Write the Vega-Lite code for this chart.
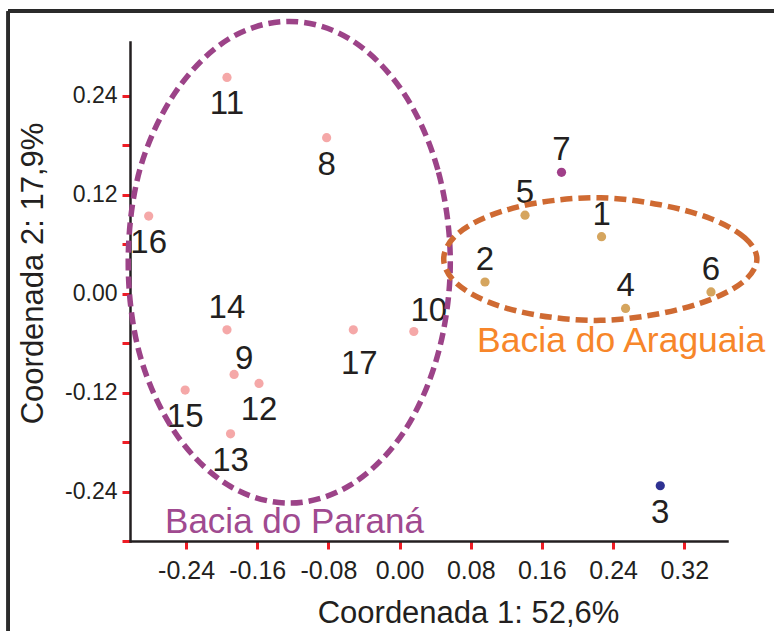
{
  "$schema": "https://vega.github.io/schema/vega-lite/v6.json",
  "width": 597,
  "height": 499,
  "autosize": {"type": "none"},
  "padding": {"left": 130, "top": 42, "right": 47, "bottom": 90},
  "background": "white",
  "config": {
    "view": {"stroke": null},
    "font": "Liberation Sans",
    "axis": {
      "grid": false,
      "domainColor": "#231F20",
      "domainWidth": 2.5,
      "domainCap": "square",
      "tickColor": "#EE1C25",
      "tickWidth": 3,
      "tickSize": 8,
      "labelFont": "Liberation Sans",
      "labelColor": "#231F20",
      "titleFont": "Liberation Sans",
      "titleColor": "#231F20",
      "titleFontWeight": "normal"
    }
  },
  "datasets": {
    "pts": [
      {"id": 1, "x": 0.227, "y": 0.069, "grupo": "Araguaia"},
      {"id": 2, "x": 0.096, "y": 0.014, "grupo": "Araguaia"},
      {"id": 3, "x": 0.293, "y": -0.233, "grupo": "isolado 3"},
      {"id": 4, "x": 0.254, "y": -0.018, "grupo": "Araguaia"},
      {"id": 5, "x": 0.141, "y": 0.095, "grupo": "Araguaia"},
      {"id": 6, "x": 0.350, "y": 0.002, "grupo": "Araguaia"},
      {"id": 7, "x": 0.182, "y": 0.147, "grupo": "isolado 7"},
      {"id": 8, "x": -0.082, "y": 0.189, "grupo": "Paraná"},
      {"id": 9, "x": -0.186, "y": -0.098, "grupo": "Paraná"},
      {"id": 10, "x": 0.016, "y": -0.046, "grupo": "Paraná"},
      {"id": 11, "x": -0.194, "y": 0.262, "grupo": "Paraná"},
      {"id": 12, "x": -0.158, "y": -0.109, "grupo": "Paraná"},
      {"id": 13, "x": -0.190, "y": -0.170, "grupo": "Paraná"},
      {"id": 14, "x": -0.194, "y": -0.044, "grupo": "Paraná"},
      {"id": 15, "x": -0.241, "y": -0.117, "grupo": "Paraná"},
      {"id": 16, "x": -0.282, "y": 0.094, "grupo": "Paraná"},
      {"id": 17, "x": -0.052, "y": -0.044, "grupo": "Paraná"}
    ],
    "elipses": [
      {"grupo": "Paraná", "ordem": 0, "x": 0.057, "y": 0.038},
      {"grupo": "Paraná", "ordem": 1, "x": 0.043, "y": 0.150},
      {"grupo": "Paraná", "ordem": 2, "x": 0.004, "y": 0.244},
      {"grupo": "Paraná", "ordem": 3, "x": -0.055, "y": 0.308},
      {"grupo": "Paraná", "ordem": 4, "x": -0.124, "y": 0.330},
      {"grupo": "Paraná", "ordem": 5, "x": -0.193, "y": 0.308},
      {"grupo": "Paraná", "ordem": 6, "x": -0.252, "y": 0.244},
      {"grupo": "Paraná", "ordem": 7, "x": -0.292, "y": 0.150},
      {"grupo": "Paraná", "ordem": 8, "x": -0.305, "y": 0.038},
      {"grupo": "Paraná", "ordem": 9, "x": -0.292, "y": -0.074},
      {"grupo": "Paraná", "ordem": 10, "x": -0.252, "y": -0.169},
      {"grupo": "Paraná", "ordem": 11, "x": -0.193, "y": -0.232},
      {"grupo": "Paraná", "ordem": 12, "x": -0.124, "y": -0.254},
      {"grupo": "Paraná", "ordem": 13, "x": -0.055, "y": -0.232},
      {"grupo": "Paraná", "ordem": 14, "x": 0.004, "y": -0.169},
      {"grupo": "Paraná", "ordem": 15, "x": 0.043, "y": -0.074},
      {"grupo": "Araguaia", "ordem": 0, "x": 0.4016, "y": 0.0418},
      {"grupo": "Araguaia", "ordem": 1, "x": 0.388, "y": 0.0676},
      {"grupo": "Araguaia", "ordem": 2, "x": 0.350, "y": 0.0907},
      {"grupo": "Araguaia", "ordem": 3, "x": 0.293, "y": 0.1076},
      {"grupo": "Araguaia", "ordem": 4, "x": 0.226, "y": 0.1162},
      {"grupo": "Araguaia", "ordem": 5, "x": 0.158, "y": 0.1105},
      {"grupo": "Araguaia", "ordem": 6, "x": 0.101, "y": 0.0943},
      {"grupo": "Araguaia", "ordem": 7, "x": 0.063, "y": 0.0703},
      {"grupo": "Araguaia", "ordem": 8, "x": 0.0496, "y": 0.0418},
      {"grupo": "Araguaia", "ordem": 9, "x": 0.063, "y": 0.0134},
      {"grupo": "Araguaia", "ordem": 10, "x": 0.101, "y": -0.0107},
      {"grupo": "Araguaia", "ordem": 11, "x": 0.158, "y": -0.0268},
      {"grupo": "Araguaia", "ordem": 12, "x": 0.226, "y": -0.0325},
      {"grupo": "Araguaia", "ordem": 13, "x": 0.293, "y": -0.0242},
      {"grupo": "Araguaia", "ordem": 14, "x": 0.350, "y": -0.0070},
      {"grupo": "Araguaia", "ordem": 15, "x": 0.388, "y": 0.0160}
    ],
    "rotulos": [
      {"texto": "Bacia do Paraná", "x": -0.2636, "y": -0.2903, "grupo": "Paraná"},
      {"texto": "Bacia do Araguaia", "x": 0.0871, "y": -0.0713, "grupo": "Araguaia"}
    ]
  },
  "encoding": {
    "x": {
      "field": "x",
      "type": "quantitative",
      "scale": {"domain": [-0.303, 0.368], "nice": false, "zero": false},
      "axis": {
        "values": [-0.24, -0.16, -0.08, 0, 0.08, 0.16, 0.24, 0.32],
        "labelExpr": "replace(format(datum.value, '.2f'), '−', '-')",
        "labelFontSize": 25,
        "labelPadding": 9,
        "title": "Coordenada 1: 52,6%",
        "titleFontSize": 31,
        "titleX": 338,
        "titleY": 81,
        "titleAlign": "center",
        "titleBaseline": "alphabetic"
      }
    },
    "y": {
      "field": "y",
      "type": "quantitative",
      "scale": {"domain": [-0.3, 0.305], "nice": false, "zero": false},
      "axis": {
        "values": [-0.3, -0.24, -0.18, -0.12, -0.06, 0, 0.06, 0.12, 0.18, 0.24],
        "labelExpr": "abs(round(datum.value * 100)) % 12 == 0 ? replace(format(datum.value, '.2f'), '−', '-') : ''",
        "labelFontSize": 23,
        "labelPadding": 5,
        "title": "Coordenada 2: 17,9%",
        "titleFontSize": 31,
        "titleAngle": 270,
        "titleX": -88,
        "titleY": 231,
        "titleAlign": "center",
        "titleBaseline": "alphabetic"
      }
    }
  },
  "layer": [
    {
      "data": {"name": "pts"},
      "mark": {"type": "rule", "color": "#2B2B2B", "strokeWidth": 3},
      "encoding": {"x": {"datum": -0.4397}, "y": {"datum": 0.3424}, "y2": {"datum": -0.45}}
    },
    {
      "data": {"name": "pts"},
      "mark": {"type": "rule", "color": "#2B2B2B", "strokeWidth": 3},
      "encoding": {"y": {"datum": 0.3424}, "x": {"datum": -0.4397}, "x2": {"datum": 0.45}}
    },
    {
      "data": {"name": "pts"},
      "mark": {"type": "circle", "size": 85, "opacity": 1},
      "encoding": {
        "color": {
          "field": "grupo",
          "type": "nominal",
          "scale": {"domain": ["Paraná", "Araguaia", "isolado 7", "isolado 3"], "range": ["#F5A8A8", "#D5A55E", "#A03F89", "#2E3192"]},
          "legend": null
        }
      }
    },
    {
      "data": {"name": "pts"},
      "transform": [{"filter": {"field": "id", "oneOf": [1, 2, 4, 5, 6, 7, 14]}}],
      "mark": {"type": "text", "fontSize": 33, "color": "#231F20", "align": "center", "baseline": "alphabetic", "dy": -12},
      "encoding": {"text": {"field": "id", "type": "nominal"}}
    },
    {
      "data": {"name": "pts"},
      "transform": [{"filter": {"field": "id", "oneOf": [3, 8, 11, 12, 13, 15, 16]}}],
      "mark": {"type": "text", "fontSize": 33, "color": "#231F20", "align": "center", "baseline": "alphabetic", "dy": 37},
      "encoding": {"text": {"field": "id", "type": "nominal"}}
    },
    {
      "data": {"name": "pts"},
      "transform": [{"filter": {"field": "id", "oneOf": [9]}}],
      "mark": {"type": "text", "fontSize": 33, "color": "#231F20", "align": "center", "baseline": "alphabetic", "dx": 10, "dy": -5},
      "encoding": {"text": {"field": "id", "type": "nominal"}}
    },
    {
      "data": {"name": "pts"},
      "transform": [{"filter": {"field": "id", "oneOf": [10]}}],
      "mark": {"type": "text", "fontSize": 33, "color": "#231F20", "align": "center", "baseline": "alphabetic", "dx": 15, "dy": -11},
      "encoding": {"text": {"field": "id", "type": "nominal"}}
    },
    {
      "data": {"name": "pts"},
      "transform": [{"filter": {"field": "id", "oneOf": [17]}}],
      "mark": {"type": "text", "fontSize": 33, "color": "#231F20", "align": "center", "baseline": "alphabetic", "dx": 6, "dy": 44},
      "encoding": {"text": {"field": "id", "type": "nominal"}}
    },
    {
      "data": {"name": "elipses"},
      "transform": [{"filter": {"field": "grupo", "equal": "Paraná"}}],
      "mark": {"type": "line", "interpolate": "cardinal-closed", "color": "#9C4388", "strokeWidth": 5.5, "strokeDash": [12, 6], "strokeCap": "butt"},
      "encoding": {"order": {"field": "ordem", "type": "quantitative"}}
    },
    {
      "data": {"name": "elipses"},
      "transform": [{"filter": {"field": "grupo", "equal": "Araguaia"}}],
      "mark": {"type": "line", "interpolate": "cardinal-closed", "color": "#CF6A32", "strokeWidth": 5.5, "strokeDash": [12, 6], "strokeCap": "butt"},
      "encoding": {"order": {"field": "ordem", "type": "quantitative"}}
    },
    {
      "data": {"name": "rotulos"},
      "transform": [{"filter": {"field": "grupo", "equal": "Paraná"}}],
      "mark": {"type": "text", "fontSize": 35, "color": "#A04A90", "align": "left", "baseline": "alphabetic"},
      "encoding": {"text": {"field": "texto", "type": "nominal"}}
    },
    {
      "data": {"name": "rotulos"},
      "transform": [{"filter": {"field": "grupo", "equal": "Araguaia"}}],
      "mark": {"type": "text", "fontSize": 35.5, "color": "#F7862A", "align": "left", "baseline": "alphabetic"},
      "encoding": {"text": {"field": "texto", "type": "nominal"}}
    }
  ]
}
